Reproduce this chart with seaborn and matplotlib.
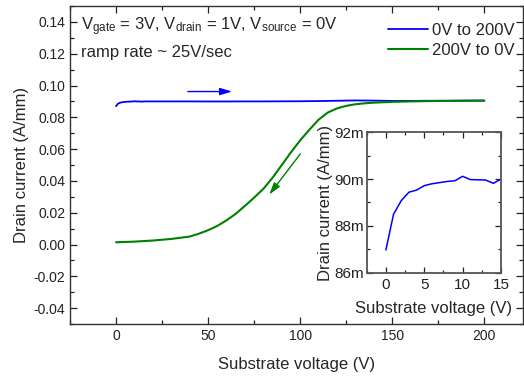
import matplotlib
matplotlib.use("Agg")
import matplotlib.pyplot as plt
import matplotlib.ticker as mticker
import numpy as np
import pandas as pd
import seaborn as sns

# Forward sweep, 0 V -> 200 V (substrate voltage in V, drain current in A/mm)
up_v = [0, 1, 2, 3, 4, 5, 6, 7, 8, 9, 10, 11, 12, 13, 14, 15,
        20, 30, 40, 50, 60, 70, 80, 90, 100, 110, 120, 130, 140,
        150, 160, 170, 180, 190, 200]
up_i = [0.08697, 0.0885, 0.08908, 0.08944, 0.08953, 0.08972, 0.0898,
        0.08985, 0.0899, 0.08993, 0.09012, 0.08998, 0.08997, 0.08996,
        0.08982, 0.0900,
        0.0900, 0.0900, 0.0900, 0.08995, 0.08995, 0.0900, 0.0900, 0.09005,
        0.0901, 0.0902, 0.0904, 0.0906, 0.0905, 0.0903, 0.0903, 0.0904,
        0.0904, 0.0905, 0.0905]

# Reverse sweep, 200 V -> 0 V
down_v = [200, 190, 180, 170, 160, 150, 140, 135, 130, 125, 120, 115, 110,
          105, 100, 95, 90, 85, 80, 75, 70, 65, 60, 55, 50, 45, 40, 30,
          20, 10, 0]
down_i = [0.0905, 0.0904, 0.0903, 0.0902, 0.0900, 0.0897, 0.0892, 0.0888,
          0.0882, 0.0872, 0.0856, 0.0830, 0.0785, 0.0722, 0.0655, 0.0580,
          0.0500, 0.0420, 0.0350, 0.0295, 0.0243, 0.0193, 0.0152, 0.0117,
          0.0090, 0.0068, 0.0050, 0.0035, 0.0025, 0.0018, 0.0014]

# Inset: first 15 V of the forward sweep
inset_v = up_v[:16]
inset_i = up_i[:16]

legend_labels = ["0V to 200V", "200V to 0V"]
line_colors = ["#0000ff", "#008000"]

sns.set_theme(style="ticks")
plt.rcParams["font.family"] = ["Liberation Sans", "DejaVu Sans"]
plt.rcParams["mathtext.fontset"] = "custom"
plt.rcParams["mathtext.rm"] = "Liberation Sans"
plt.rcParams["mathtext.it"] = "Liberation Sans"
plt.rcParams["axes.unicode_minus"] = False

fig = plt.figure(figsize=(5.24, 3.77), dpi=100)
W, H = 524, 377
ax = fig.add_axes([70 / W, (H - 324) / H, 453 / W, 318 / H])

df_up = pd.DataFrame({"v": up_v, "i": up_i})
df_down = pd.DataFrame({"v": down_v, "i": down_i})
sns.lineplot(data=df_up, x="v", y="i", ax=ax, color=line_colors[0],
             lw=1.3, label=legend_labels[0], sort=False)
sns.lineplot(data=df_down, x="v", y="i", ax=ax, color=line_colors[1],
             lw=1.5, label=legend_labels[1], sort=False)

ax.set_xlim(-25, 221)
ax.set_ylim(-0.05, 0.15)
ax.xaxis.set_major_locator(mticker.MultipleLocator(50))
ax.xaxis.set_minor_locator(mticker.MultipleLocator(25))
ax.yaxis.set_major_locator(mticker.MultipleLocator(0.02))
ax.yaxis.set_minor_locator(mticker.MultipleLocator(0.01))
ax.yaxis.set_major_formatter(mticker.FormatStrFormatter("%.2f"))
ax.tick_params(which="both", direction="in", top=True, right=True,
               labelsize=10, colors="#222222", width=0.9)
ax.tick_params(which="major", length=5)
ax.tick_params(which="minor", length=3)
for s in ax.spines.values():
    s.set_color("#333333")
    s.set_linewidth(1.0)
ax.set_xlabel("Substrate voltage (V)", fontsize=12, labelpad=10)
ax.set_ylabel("Drain current (A/mm)", fontsize=12, labelpad=3)

leg = ax.legend(loc="upper right", bbox_to_anchor=(1.0, 0.972), frameon=False,
                fontsize=12, handlelength=2.4, handletextpad=0.25,
                labelspacing=0.3, borderpad=0.3, borderaxespad=0.2)

fig.text(81 / W, 1 - 30 / H,
         r"$\mathregular{V_{gate}}$ = 3V, $\mathregular{V_{drain}}$ = 1V, "
         r"$\mathregular{V_{source}}$ = 0V",
         fontsize=12, va="baseline", ha="left")
fig.text(81 / W, 1 - 56.5 / H, "ramp rate ~ 25V/sec",
         fontsize=12, va="baseline", ha="left")

# Sweep direction arrows
ax.annotate("", xy=(63, 0.0962), xytext=(39, 0.0962),
            arrowprops=dict(arrowstyle="-|>,head_length=0.6,head_width=0.18",
                            color=line_colors[0], lw=1.0, shrinkA=0, shrinkB=0))
ax.annotate("", xy=(83.2, 0.0314), xytext=(100.1, 0.057),
            arrowprops=dict(arrowstyle="-|>,head_length=0.6,head_width=0.18",
                            color=line_colors[1], lw=1.0, shrinkA=0, shrinkB=0))

# Inset: zoom on the start of the forward sweep
axi = fig.add_axes([366.7 / W, (H - 272.7) / H, 134.3 / W, 140.4 / H])
df_in = pd.DataFrame({"v": inset_v, "i": inset_i})
sns.lineplot(data=df_in, x="v", y="i", ax=axi, color=line_colors[0],
             lw=1.1, sort=False)
axi.set_xlim(-2.5, 15)
axi.set_ylim(0.086, 0.092)
axi.xaxis.set_major_locator(mticker.MultipleLocator(5))
axi.xaxis.set_minor_locator(mticker.MultipleLocator(2.5))
axi.yaxis.set_major_locator(mticker.MultipleLocator(0.002))
axi.yaxis.set_minor_locator(mticker.MultipleLocator(0.001))
axi.yaxis.set_major_formatter(
    mticker.FuncFormatter(lambda v, p: f"{v * 1000:.0f}m"))
axi.tick_params(which="both", direction="in", top=True, right=True,
                labelsize=11, colors="#222222", width=0.9)
axi.tick_params(axis="x", pad=4)
axi.tick_params(axis="y", pad=2)
axi.tick_params(which="major", length=4)
axi.tick_params(which="minor", length=2.5)
for s in axi.spines.values():
    s.set_color("#555555")
    s.set_linewidth(1.3)
axi.set_xlabel("Substrate voltage (V)", fontsize=12, labelpad=6)
axi.set_ylabel("Drain current (A/mm)", fontsize=12, labelpad=1)

fig.savefig("out.png", dpi=100)
